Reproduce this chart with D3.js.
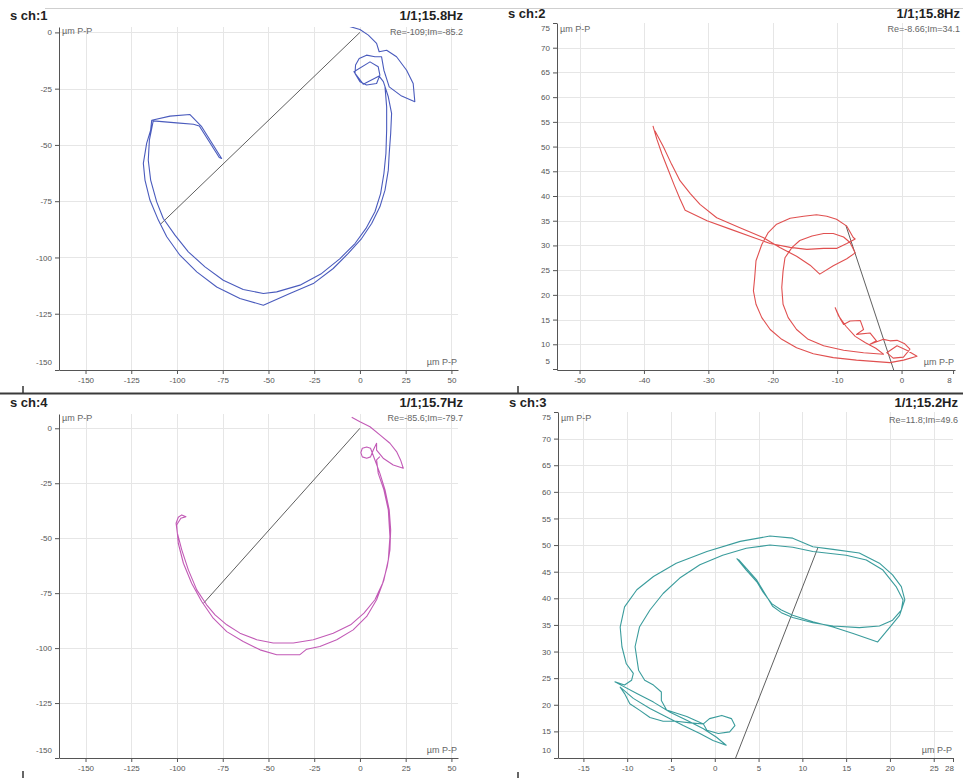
<!DOCTYPE html>
<html>
<head>
<meta charset="utf-8">
<script src="https://cdn.jsdelivr.net/npm/d3@7"></script>
<style>
  body { margin: 0; background: #fff; }
  svg { display: block; }
</style>
</head>
<body>
<svg width="963" height="778"></svg>
<script>
// ---- data (x, y in µm P-P) ----
const channelNames = ["s ch:1", "s ch:2", "s ch:3", "s ch:4"];
const channelFreqs = ["1/1;15.8Hz", "1/1;15.8Hz", "1/1;15.2Hz", "1/1;15.7Hz"];
const phasorRe = [-109, -8.66, 11.8, -85.6];
const phasorIm = [-85.2, 34.1, 49.6, -79.7];

const wideXRange = [-164.5, 53.6];
const wideXTicks = [-150, -125, -100, -75, -50, -25, 0, 25, 50];
const wideYTicks = [0, -25, -50, -75, -100, -125, -150];
const ch1YRange = [-150, 2.4];
const ch4YRange = [-150, 6.5];

const ch2XRange = [-53.5, 8.3];
const ch2YRange = [4.8, 75];
const ch2XTicks = [-50, -40, -30, -20, -10, 0, 8];
const ch2YTicks = [5, 10, 15, 20, 25, 30, 35, 40, 45, 50, 55, 60, 65, 70, 75];

const ch3XRange = [-17.9, 27.2];
const ch3YRange = [10, 75];
const ch3XTicks = [-15, -10, -5, 0, 5, 10, 15, 20, 25, 28];
const ch3YTicks = [10, 15, 20, 25, 30, 35, 40, 45, 50, 55, 60, 65, 70, 75];

const ch1Trace = [
  [-6.4, 2.8], [0, 1.3], [4.6, -1.2], [9.1, -4.9], [10.5, -8.6],
  [14.6, -7.9], [20, -10.8], [25.5, -16.8], [29.1, -22.7], [30, -30.8],
  [22.8, -28.3], [16, -24.2], [13.1, -16.8], [11.8, -10.8],
  [8.2, -10.8], [3.6, -10.1], [-0.4, -11.6], [-2.4, -14.5], [-2.7, -18.2],
  [0, -21.9], [3.6, -23.4], [9.1, -22.7], [10.9, -19], [10, -15.3],
  [5.5, -13.1], [-3.3, -17.5], [1.8, -23], [10.5, -19.4], [12.8, -21.9],
  [15.5, -28.6], [17.3, -36], [16.8, -44.9], [16, -53.8], [15.5, -61.2],
  [13.7, -70.1], [10.9, -77.5], [6.4, -84.9], [0.9, -91.6], [-6.4, -98.2],
  [-14.6, -104.9], [-25.5, -111.6], [-38.3, -116], [-52.8, -121.2], [-65.6, -118.2],
  [-78.3, -113.1], [-89.2, -106.4], [-98.4, -99], [-105.6, -90.8], [-110.2, -83.4],
  [-114.8, -74.5], [-117.5, -65.6], [-118.4, -58.2], [-116.6, -49.3], [-114.4, -43.4],
  [-113.8, -39], [-103.8, -37.2], [-92.9, -36.5], [-86.5, -41.9], [-75.6, -56],
  [-76.9, -55.6], [-87.8, -41.6], [-91, -40.8], [-100.2, -40.2], [-113, -39.3],
  [-115.1, -47.9], [-115.7, -56.8], [-114.4, -65.6], [-111.1, -75.3], [-107.5, -82.7],
  [-101.1, -90.1], [-93.8, -97.5], [-84.7, -104.2], [-74.7, -110.1], [-63.8, -114.2],
  [-52.8, -116], [-45.5, -115.3], [-32.8, -112.3], [-20.9, -107.1], [-10.9, -100.5],
  [-2.7, -93.8], [3.3, -87.1], [8.2, -79.7], [11.3, -71.6], [13.1, -62.7],
  [14.2, -53.8], [14.6, -43.4], [14.6, -33.1], [13.7, -24.2]
];

const ch2Trace = [
  [-38.6, 54.2], [-38, 51.5], [-37.2, 48.5], [-36.3, 45.5], [-35.3, 42.2],
  [-34.4, 39.4], [-33.6, 37.1], [-30.2, 35], [-26.6, 33.3], [-23, 31.6],
  [-20.4, 30.4], [-17.3, 29.6], [-14.7, 29.2], [-12.1, 29.4], [-10.1, 29.4],
  [-8.5, 30.4], [-7.2, 31.3],
  [-7.5, 31.6], [-8.5, 33.9], [-10.1, 35.3], [-11.6, 35.9], [-13.2, 36.2],
  [-15.2, 35.9], [-17.3, 35.5], [-19.4, 34.3], [-20.7, 32.6], [-21.7, 30.2],
  [-22.6, 26.9], [-22.8, 23.5], [-23, 20.8], [-22.6, 18.1], [-21.7, 15.4],
  [-20.4, 13], [-18.6, 11], [-16.3, 9.3], [-13.7, 8.1], [-10.6, 7.3],
  [-7, 6.8], [-3.9, 6.5], [-1.8, 6.3], [0.3, 6.8],
  [2.4, 7.6], [0.8, 8.8], [-0.7, 9.7], [-2.3, 8.3], [-1.3, 7.2], [0.3, 7.4],
  [1.3, 9], [0.5, 10.1], [-0.7, 10.8], [-1.8, 10.7], [-2.8, 11], [-4.9, 10],
  [-3.9, 10.7], [-4.9, 12.3], [-7, 12], [-5.9, 13], [-6.4, 14.8], [-8, 14.7],
  [-9, 14], [-9.5, 15.1], [-10.3, 17.4],
  [-9.8, 15.8], [-8.6, 13.6], [-7.2, 11.6], [-5.6, 10.3], [-4, 9.2], [-2.8, 8],
  [-5.9, 8.3], [-9, 8.8], [-12.1, 9.7], [-14.5, 11], [-16.3, 13],
  [-17.6, 15.4], [-18.4, 18.1], [-18.6, 21.5], [-18.4, 24.8], [-18.1, 27.5],
  [-17, 29.6], [-15.8, 31], [-13.9, 31.9], [-12.1, 32.4], [-10.6, 32.4],
  [-9, 31.7], [-8, 30.6], [-7.2, 28.5],
  [-8.5, 27.3], [-10.6, 25.9], [-12.7, 24.2], [-14.2, 26], [-16.3, 27.8],
  [-18.9, 29.6], [-21.5, 31.6], [-25.1, 33.6], [-28.7, 35.6], [-31.3, 38.3],
  [-32.8, 40.5], [-34.4, 43.1], [-35.7, 46.4], [-37, 50], [-38.3, 53.2]
];

const ch3Trace = [
  [2.5, 47.5], [3.6, 45.3], [4.8, 43.1], [5.5, 41.2], [6.5, 39], [7.6, 37.8],
  [8.9, 36.8], [11.2, 35.6], [13.5, 34.6], [15.8, 33.4], [18.6, 31.8],
  [20, 34.6], [21.1, 36.8], [21.7, 39.7], [21.3, 42.2], [20.3, 44.4],
  [18.8, 46.6], [16.5, 48.5], [13.5, 49.2], [11.2, 49.7], [8.9, 51.3],
  [6.3, 51.7], [2.9, 50.7], [-0.9, 48.8], [-4.4, 46.6], [-7, 44.1],
  [-8.9, 41.6], [-10.3, 38.4], [-10.8, 34.6], [-10.6, 30.9], [-10.1, 27.7],
  [-9.3, 25.9], [-9.5, 24.6], [-10.3, 23.7], [-11.4, 24.3],
  [-8.9, 22.1], [-7, 20.5], [-5.1, 18.6], [-3.2, 17.1], [-1.3, 15.5],
  [0.2, 13.9], [1.3, 12.4], [-0.2, 13.3], [-1.7, 14.6], [-3.6, 16.1],
  [-5.5, 17.7], [-7.4, 19.3], [-9.3, 21.2], [-10.8, 23.3],
  [-10.3, 22.1], [-9.7, 20.2], [-8.6, 19], [-7.4, 17.6], [-5.9, 16.9],
  [-4.4, 16.9], [-2.8, 16.6], [-1.3, 16.4], [-0.6, 17.4], [0.8, 18],
  [1.9, 17.4], [2.3, 16.1], [1.7, 14.9], [0.4, 14.6], [-0.9, 15.2],
  [-1.3, 16.4], [-3.2, 17.8], [-5.5, 19], [-6.1, 20.8], [-6.1, 22.4],
  [-7, 23.7], [-8, 24.6], [-8.7, 26.5], [-9.1, 30.9], [-8.6, 34.6],
  [-7.4, 37.8], [-5.9, 40.9], [-4, 43.8], [-1.7, 46.3], [0.9, 48.1],
  [3.6, 49.4], [6.3, 50], [8.9, 49.6], [11.2, 48.8], [15, 48.1],
  [17.3, 47.2], [19.2, 45.3], [20.7, 42.2], [21.5, 39.7], [21.3, 37.8],
  [20.3, 35.9], [18.8, 34.8], [16.5, 34.5], [13.5, 34.8], [11.2, 35.4],
  [8.9, 36.4], [7.6, 37.3], [6.6, 38.5], [4.8, 43.4], [2.7, 47.3]
];

const ch4Trace = [
  [-4.5, 5], [0, 3], [5.5, 0.7], [10.9, -3], [16.4, -6.8], [20, -10.6],
  [22.2, -14.4], [23.7, -18.2], [18.2, -16.7], [12.7, -13.6], [9.1, -9.9],
  [9.1, -6.8], [7.3, -9.9], [6.7, -11.1], [5.8, -9.1], [3.7, -8.5],
  [1.3, -9.1], [0.5, -11.1], [1.3, -13], [3.7, -13.6], [5.8, -13],
  [6.7, -11.1], [8.2, -14.4], [10.9, -20.5], [13.7, -28], [16, -37.1],
  [16.8, -46.2], [16.4, -55.3], [14.9, -62.9], [12.4, -70.5], [8.2, -78],
  [2.2, -84.1], [-5.1, -89.4], [-14.6, -93.2], [-25.5, -96.2], [-36.4, -97.7],
  [-47.4, -97.7], [-56.4, -96.2], [-65.6, -93.2], [-72.8, -89.4], [-79.2, -84.9],
  [-83.8, -80.3], [-89.2, -73.5], [-93.8, -64.4], [-97.4, -55.3], [-99.8, -47.7],
  [-100.5, -43.2], [-99.3, -40.5], [-97.4, -39.4], [-95.1, -40.2], [-97.9, -40.9],
  [-100.2, -44], [-99.3, -52.3], [-96.5, -61.4], [-92, -70.5], [-86.5, -78.8],
  [-80.2, -86.4], [-72.8, -92.5], [-63.8, -97], [-54.6, -100.8], [-45.5, -103],
  [-32.8, -103], [-29.1, -100.5], [-21.9, -99.3], [-12.7, -96.2], [-3.7, -91.7],
  [3.7, -85.6], [9.1, -78], [13.1, -69], [15.5, -59.9], [16.4, -49.3],
  [15.5, -37.1], [13.1, -28], [10, -20.5], [9.1, -14.4], [10.9, -12.9]
];

// ---- layout ----
const panels = [
  { i: 0, trace: ch1Trace, color: "#4a5bbd", xRange: wideXRange, yRange: ch1YRange,
    xTicks: wideXTicks, yTicks: wideYTicks,
    left: 59, right: 458, top: 27, bottom: 370, titleX: 10, titleY: 20, reY: 35, unitY: 34 },
  { i: 1, trace: ch2Trace, color: "#e05050", xRange: ch2XRange, yRange: ch2YRange,
    xTicks: ch2XTicks, yTicks: ch2YTicks,
    left: 557, right: 955, top: 23, bottom: 370, titleX: 508, titleY: 18, reY: 32, unitY: 32 },
  { i: 2, trace: ch3Trace, color: "#3a9c9c", xRange: ch3XRange, yRange: ch3YRange,
    xTicks: ch3XTicks, yTicks: ch3YTicks,
    left: 558, right: 953, top: 412, bottom: 758, titleX: 509, titleY: 407, reY: 423, unitY: 421 },
  { i: 3, trace: ch4Trace, color: "#c25ab6", xRange: wideXRange, yRange: ch4YRange,
    xTicks: wideXTicks, yTicks: wideYTicks,
    left: 59, right: 458, top: 414, bottom: 758, titleX: 10, titleY: 407, reY: 421, unitY: 421 }
];

const svg = d3.select("svg");
const tickFont = '8px "Liberation Sans", Arial, sans-serif';
const textColor = "#555";

// frame lines between the plots
svg.append("line").attr("x1", 45).attr("x2", 963).attr("y1", 8.5).attr("y2", 8.5)
  .attr("stroke", "#cfcfcf").attr("stroke-width", 1);
svg.append("line").attr("x1", 0).attr("x2", 963).attr("y1", 393.5).attr("y2", 393.5)
  .attr("stroke", "#3a3a3a").attr("stroke-width", 2);
[[23, 386, 393], [518, 386, 393], [23, 771, 778], [518, 772, 778]].forEach(m => {
  svg.append("line").attr("x1", m[0]).attr("x2", m[0]).attr("y1", m[1]).attr("y2", m[2])
    .attr("stroke", "#333").attr("stroke-width", 1.5);
});

function drawPanel(p) {
  const g = svg.append("g");
  const x = d3.scaleLinear().domain(p.xRange).range([p.left, p.right]);
  const y = d3.scaleLinear().domain(p.yRange).range([p.bottom, p.top]);
  const xc = x.copy().clamp(true);
  const yc = y.copy().clamp(true);
  const isEndX = v => v >= p.xRange[1] - 0.5 || v <= p.xRange[0] + 0.5;
  const isEndY = v => v >= p.yRange[1] - 0.5 || v <= p.yRange[0] + 0.5;

  // grid
  g.append("g").selectAll("line").data(p.xTicks.filter(v => !isEndX(v))).join("line")
    .attr("x1", d => Math.round(x(d)) + 0.5).attr("x2", d => Math.round(x(d)) + 0.5)
    .attr("y1", p.top).attr("y2", p.bottom)
    .attr("stroke", "#e6e6e6");
  g.append("g").selectAll("line").data(p.yTicks.filter(v => !isEndY(v))).join("line")
    .attr("y1", d => Math.round(y(d)) + 0.5).attr("y2", d => Math.round(y(d)) + 0.5)
    .attr("x1", p.left).attr("x2", p.right)
    .attr("stroke", "#e6e6e6");

  // plot content, clipped to the axes box
  const clipId = "clip" + p.i;
  svg.append("clipPath").attr("id", clipId).append("rect")
    .attr("x", p.left).attr("y", p.top)
    .attr("width", p.right - p.left).attr("height", p.bottom - p.top);
  const plot = g.append("g").attr("clip-path", `url(#${clipId})`);

  plot.append("line")
    .attr("x1", x(0)).attr("y1", y(0))
    .attr("x2", x(phasorRe[p.i])).attr("y2", y(phasorIm[p.i]))
    .attr("stroke", "#4d4d4d").attr("stroke-width", 0.9);

  const line = d3.line().x(d => x(d[0])).y(d => y(d[1]));
  plot.append("path").datum(p.trace)
    .attr("fill", "none")
    .attr("stroke", p.color)
    .attr("stroke-width", 1.1)
    .attr("stroke-linejoin", "round")
    .attr("d", line);

  // axes
  const gx = g.append("g").attr("transform", `translate(0,${p.bottom})`)
    .call(d3.axisBottom(xc).tickValues(p.xTicks).tickSize(4).tickSizeOuter(0)
      .tickPadding(3).tickFormat(d => String(d)));
  gx.selectAll(".tick").filter(d => d >= p.xRange[1] - 0.5).select("text").attr("dx", -4);

  const gy = g.append("g").attr("transform", `translate(${p.left},0)`)
    .call(d3.axisLeft(yc).tickValues(p.yTicks).tickSize(4).tickSizeOuter(0)
      .tickPadding(3).tickFormat(d => String(d)));
  gy.selectAll(".tick").filter(d => d <= p.yRange[0] + 0.5).select("text").attr("y", -8);
  gy.selectAll(".tick").filter(d => d >= p.yRange[1] - 0.5).select("text").attr("y", 5);

  [gx, gy].forEach(a => {
    a.select(".domain").attr("stroke", "#555");
    a.selectAll(".tick line").attr("stroke", "#555");
    a.selectAll("text").attr("fill", textColor).style("font", tickFont);
  });

  // labels
  const txt = (tx, ty, s, anchor, font, fill) => g.append("text")
    .attr("x", tx).attr("y", ty).attr("text-anchor", anchor)
    .style("font", font).attr("fill", fill).text(s);
  txt(p.titleX, p.titleY, channelNames[p.i], "start",
    'bold 13px "Liberation Sans", Arial, sans-serif', "#222");
  txt(p.right + 5, p.titleY, channelFreqs[p.i], "end",
    'bold 13px "Liberation Sans", Arial, sans-serif', "#222");
  txt(p.right + 5, p.reY, `Re=${phasorRe[p.i]};Im=${phasorIm[p.i]}`, "end",
    '9px "Liberation Sans", Arial, sans-serif', "#666");
  txt(p.left + 3, p.unitY, "µm P-P", "start", '9px "Liberation Sans", Arial, sans-serif', "#666");
  txt(p.right - 1, p.bottom - 5, "µm P-P", "end", '9px "Liberation Sans", Arial, sans-serif', "#666");
}

panels.forEach(drawPanel);
</script>
</body>
</html>
